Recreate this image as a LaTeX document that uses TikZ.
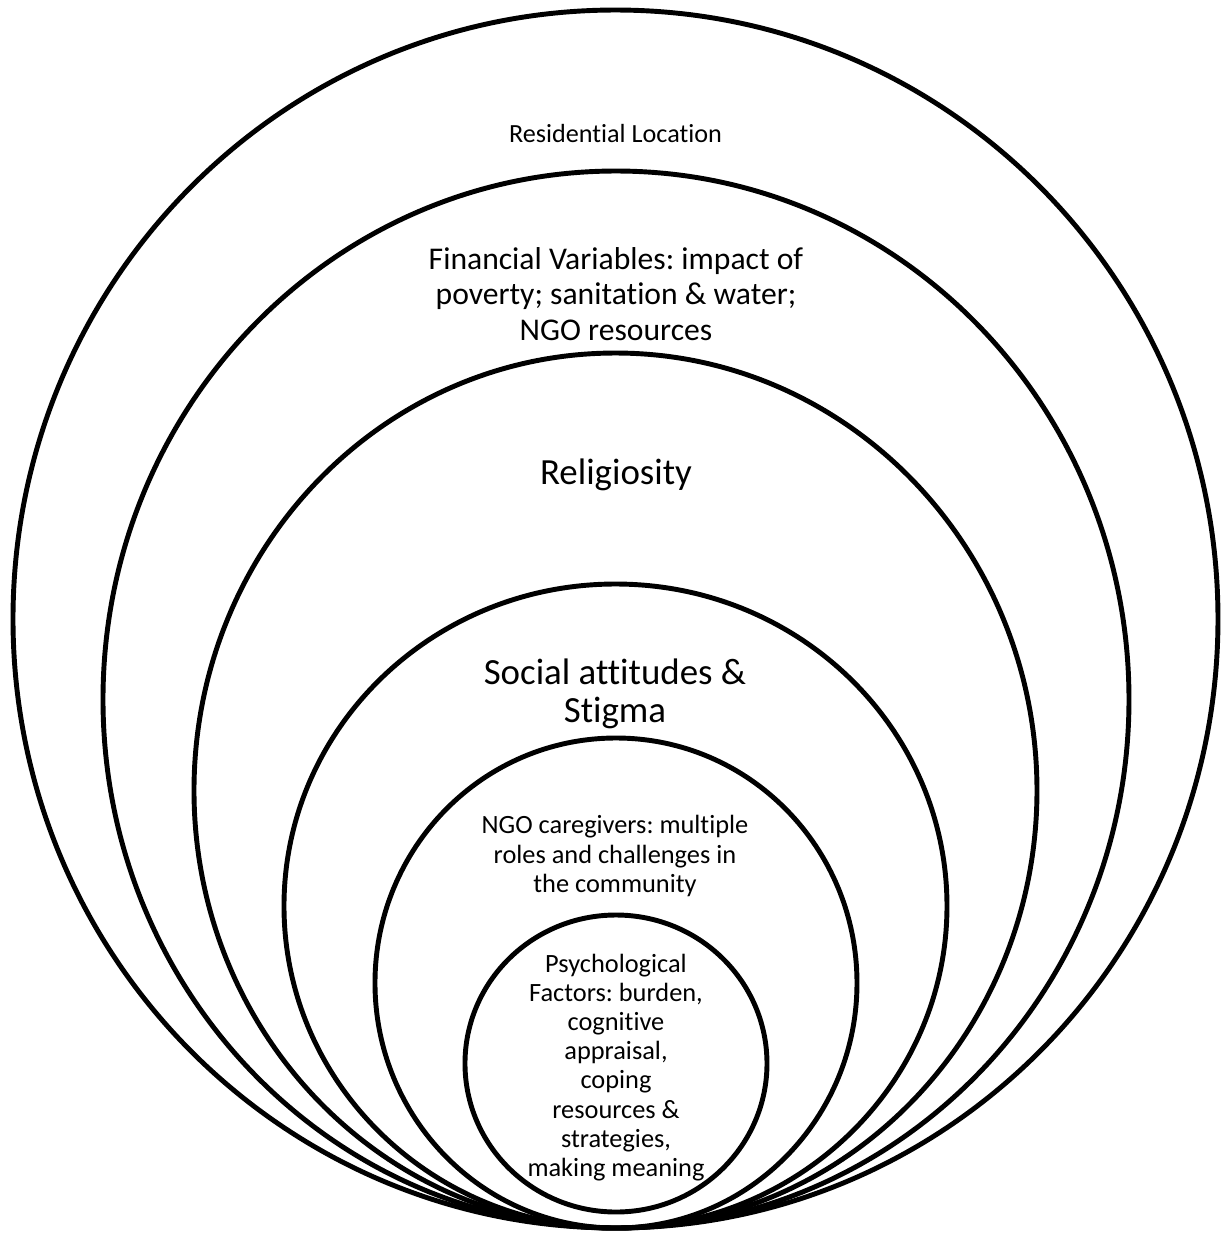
\documentclass[tikz,border=0pt]{standalone}
\usepackage{fontspec}
\setmainfont{Carlito}[Ligatures={NoCommon}]
\frenchspacing
\usetikzlibrary{shapes.geometric, positioning}
\tikzset{
  ring/.style  = {draw, ellipse, line width=1.4pt, inner sep=0pt, outer sep=0pt},
  lblS/.style  = {align=center, font=\fontsize{7.5pt}{8.3pt}\selectfont},
  lblM/.style  = {align=center, font=\fontsize{9pt}{10.2pt}\selectfont},
  lblL/.style  = {align=center, font=\fontsize{10.5pt}{10.8pt}\selectfont}
}
\begin{document}
\begin{tikzpicture}

  \useasboundingbox (0,0) rectangle (12.21,-12.34);

  % ── Nested rings (all touching at the bottom) ─────────────────────────────
  \node[ring, minimum width=12.05cm, minimum height=12.18cm] (Resid)  at (6.155,-6.19)  {};
  \node[ring, minimum width=10.26cm, minimum height=10.57cm] (Fin)    at (6.160,-6.995) {};
  \node[ring, minimum width=8.43cm,  minimum height=8.75cm]  (Relig)  at (6.155,-7.905) {};
  \node[ring, minimum width=6.63cm,  minimum height=6.44cm]  (Social) at (6.155,-9.06)  {};
  \node[ring, minimum width=4.82cm,  minimum height=4.90cm]  (Ngo)    at (6.160,-9.83)  {};
  \node[ring, minimum width=3.02cm,  minimum height=2.97cm]  (Psych)  at (6.160,-10.635) {};

  % ── Labels ────────────────────────────────────────────────────────────────
  \node[lblS, font=\fontsize{7.45pt}{8.3pt}\selectfont] (ResidTxt) at (6.155,-1.33)
        {Residential Location};
  \node[lblM] (FinTxt) at (6.16,-2.94)
        {Financial Variables: impact of\\ poverty; sanitation \& water;\\ NGO resources};
  \node[lblL] (ReligTxt) at (6.16,-4.75) {Religiosity};
  \node[lblL] (SocialTxt) at (6.15,-6.94) {Social attitudes \&\\ Stigma};
  \node[lblS] (NgoTxt) at (6.15,-8.56)
        {NGO caregivers: multiple\\ roles and challenges in\\ the community};
  \node[lblS] (PsychTxt) at (6.16,-10.675)
        {Psychological\\ Factors: burden,\\ cognitive\\ appraisal,\\ coping\\ resources \&\\ strategies,\\ making meaning};

\end{tikzpicture}
\end{document}
